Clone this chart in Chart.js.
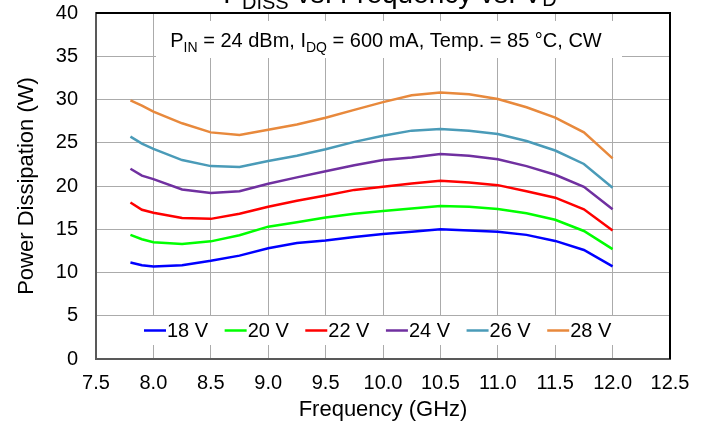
<!DOCTYPE html>
<html>
<head>
<meta charset="utf-8">
<script src="https://cdn.jsdelivr.net/npm/chart.js@4"></script>
<style>
html,body{margin:0;padding:0;background:#fff}
#wrap{width:707px;height:425px}
</style>
</head>
<body>
<div id="wrap"><canvas id="grafico" width="707" height="425"></canvas></div>
<script>
// ---------------- DADOS ----------------
const freq = [7.8, 7.9, 8.0, 8.25, 8.5, 8.75, 9.0, 9.25, 9.5, 9.75, 10.0, 10.25, 10.5, 10.75, 11.0, 11.25, 11.5, 11.75, 12.0]
const v18 = [11.15, 10.85, 10.7, 10.85, 11.35, 11.95, 12.8, 13.4, 13.7, 14.1, 14.45, 14.7, 15.0, 14.85, 14.7, 14.35, 13.65, 12.6, 10.7]
const v20 = [14.35, 13.85, 13.5, 13.3, 13.6, 14.3, 15.3, 15.8, 16.35, 16.8, 17.1, 17.4, 17.7, 17.6, 17.35, 16.85, 16.1, 14.8, 12.7]
const v22 = [18.1, 17.25, 16.9, 16.3, 16.2, 16.8, 17.6, 18.3, 18.9, 19.55, 19.9, 20.3, 20.6, 20.4, 20.1, 19.4, 18.65, 17.3, 14.85]
const v24 = [22.0, 21.2, 20.8, 19.6, 19.2, 19.4, 20.25, 21.0, 21.7, 22.4, 23.0, 23.3, 23.7, 23.5, 23.1, 22.3, 21.3, 19.9, 17.3]
const v26 = [25.7, 24.9, 24.3, 23.0, 22.3, 22.2, 22.9, 23.5, 24.25, 25.1, 25.8, 26.4, 26.6, 26.4, 26.0, 25.2, 24.1, 22.55, 19.8]
const v28 = [29.9, 29.3, 28.6, 27.25, 26.2, 25.9, 26.5, 27.1, 27.9, 28.8, 29.7, 30.5, 30.8, 30.6, 30.05, 29.1, 27.9, 26.2, 23.2]

const labels = ["18 V", "20 V", "22 V", "24 V", "26 V", "28 V"]
const series = [v18, v20, v22, v24, v26, v28]
const cores = ["#0000ff", "#00ff00", "#ff0000", "#7030a0", "#4a9bb8", "#e8893c"]

const FONTE = "'Liberation Sans', Arial, sans-serif"

// ---------------- TEXTOS COM SUBSCRITO ----------------
function textoPartes(ctx, partes, xc, y, tam, tamSub, subDy){
  let total = 0
  partes.forEach(p => {
    ctx.font = (p.sub ? tamSub : tam) + "px " + FONTE
    p.w = ctx.measureText(p.t).width
    total += p.w
  })
  let x = xc - total / 2
  partes.forEach(p => {
    ctx.font = (p.sub ? tamSub : tam) + "px " + FONTE
    ctx.fillText(p.t, x, y + (p.sub ? (p.dy !== undefined ? p.dy : subDy) : 0))
    x += p.w
  })
}

// ---------------- PLUGIN EXTRAS ----------------
const extras = {
  id: "extras",
  afterDraw(chart){
    const ctx = chart.ctx
    const a = chart.chartArea
    ctx.save()

    // caixa branca da anotacao
    ctx.fillStyle = "#fff"
    ctx.fillRect(156, 21, 466, 37)
    // caixa branca da legenda
    ctx.fillRect(131, 316, 494, 29)

    // borda superior e direita
    ctx.strokeStyle = "#000"
    ctx.lineWidth = 2
    ctx.beginPath()
    ctx.moveTo(a.left, a.top)
    ctx.lineTo(a.right, a.top)
    ctx.lineTo(a.right, a.bottom)
    ctx.stroke()

    ctx.fillStyle = "#000"
    ctx.textBaseline = "alphabetic"
    ctx.textAlign = "left"

    // titulo (cortado no topo)
    textoPartes(ctx, [
      {t:"P"}, {t:"DISS", sub:true, dy:5.5}, {t:" vs. Frequency vs. V"}, {t:"D", sub:true, dy:2.5}
    ], 390, 3, 28, 20, 5)

    // anotacao
    textoPartes(ctx, [
      {t:"P"}, {t:"IN", sub:true}, {t:" = 24 dBm, I"}, {t:"DQ", sub:true}, {t:" = 600 mA, Temp. = 85 °C, CW"}
    ], 386, 47, 20, 14, 4.5)

    // legenda
    ctx.font = "20px " + FONTE
    let x = 144
    chart.data.datasets.forEach(ds => {
      ctx.strokeStyle = ds.borderColor
      ctx.lineWidth = 2.5
      ctx.beginPath()
      ctx.moveTo(x, 330.5)
      ctx.lineTo(x + 22, 330.5)
      ctx.stroke()
      ctx.fillText(ds.label, x + 23, 337)
      x += 23 + ctx.measureText(ds.label).width + 16.5
    })

    ctx.restore()
  }
}

// ---------------- GRAFICO ----------------
new Chart(document.getElementById("grafico"), {
  type: "line",
  data: {
    datasets: series.map((s, i) => ({
      label: labels[i],
      data: s.map((v, j) => ({x: freq[j], y: v})),
      borderColor: cores[i],
      backgroundColor: cores[i],
      borderWidth: 2.5,
      pointRadius: 0,
      tension: 0,
      fill: false
    }))
  },
  options: {
    responsive: false,
    animation: false,
    layout: {padding: {left: 0, right: 37, top: 13, bottom: 0}},
    plugins: {
      legend: {display: false},
      tooltip: {enabled: false}
    },
    scales: {
      x: {
        type: "linear",
        min: 7.5,
        max: 12.5,
        afterFit: s => { s.height = 66; s.paddingLeft = 0; s.paddingRight = 0 },
        ticks: {
          stepSize: 0.5,
          color: "#000",
          padding: 12,
          maxRotation: 0,
          font: {family: FONTE, size: 20},
          callback: v => v.toFixed(1)
        },
        grid: {color: "#ababab", lineWidth: 1, drawTicks: false},
        border: {color: "#595959", width: 2},
        title: {display: true, text: "Frequency (GHz)", color: "#000", font: {family: FONTE, size: 22}, padding: {top: 0, bottom: 2}}
      },
      y: {
        min: 0,
        max: 40,
        afterFit: s => { s.width = 96; s.paddingTop = 0; s.paddingBottom = 0 },
        ticks: {
          stepSize: 5,
          color: "#000",
          padding: 18,
          font: {family: FONTE, size: 20}
        },
        grid: {color: "#ababab", lineWidth: 1, drawTicks: false},
        border: {color: "#595959", width: 2},
        title: {display: true, text: "Power Dissipation (W)", color: "#000", font: {family: FONTE, size: 22}, padding: {top: 14, bottom: 0}}
      }
    }
  },
  plugins: [extras]
})
</script>
</body>
</html>
